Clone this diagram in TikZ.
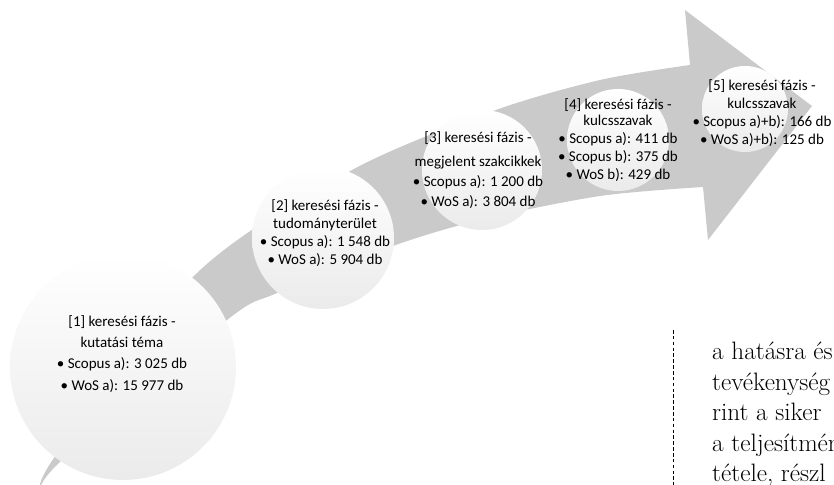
\documentclass[tikz,border=0pt]{standalone}
\usepackage{fontspec}
\setsansfont{Carlito}
\usepackage{tikz}
\usetikzlibrary{positioning}
\definecolor{arrowgrey}{RGB}{202,202,202}

\begin{document}
\begin{tikzpicture}[x=0.03cm, y=-0.03cm, every node/.style={font=\sffamily\fontsize{12.8}{15.5}\selectfont}]
\tikzset{
  stage/.style={circle, inner sep=0pt, top color=white, bottom color=black!8},
  stagetext/.style={align=center, inner sep=0pt},
  band/.style={fill=arrowgrey},
  bodytext/.style={align=left, inner sep=0pt, font=\rmfamily\fontsize{21.5}{26}\selectfont},
}
\useasboundingbox (0,0) rectangle (834,485);
\clip (0,0) rectangle (834,485);
% curved arrow
\fill[band] plot[smooth] coordinates {(40,492) (56,455) (197,273) (352,170) (493,111) (600,80) (690,65)}
  -- (685,10) -- (812,106) -- (708,240) -- (703,187)
  -- plot[smooth] coordinates {(703,187) (600,196) (480,220) (390,247) (277,293) (227,320) (62,460) (40,492)} -- cycle;
% circles
\foreach \n/\cx/\cy/\rad in {1/123/367/113, 2/323/238/71, 3/482/170/60, 4/618/140/51, 5/745/109/43}
  \node[stage, minimum size=2*\rad*0.03cm] (c\n) at (\cx,\cy) {};
% search phases
\node[stagetext, font=\sffamily\fontsize{12.8}{18}\selectfont] (t1) at (122,354) {[1] keresési fázis -\\ kutatási téma\\ • Scopus a): 3 025 db\\ • WoS a): 15 977 db};
\node[stagetext] (t2) at (325,233) {[2] keresési fázis -\\ tudományterület\\ • Scopus a): 1 548 db\\ • WoS a): 5 904 db};
\node[stagetext, font=\sffamily\fontsize{12.8}{17}\selectfont] (t3) at (478,170) {[3] keresési fázis -\\[4pt] megjelent szakcikkek\\ • Scopus a): 1 200 db\\ • WoS a): 3 804 db};
\node[stagetext] (t4) at (618,140) {[4] keresési fázis -\\[-2pt] kulcsszavak\\ • Scopus a): 411 db\\ • Scopus b): 375 db\\ • WoS b): 429 db};
\node[stagetext] (t5) at (762,113) {[5] keresési fázis -\\ kulcsszavak\\ • Scopus a)+b): 166 db\\ • WoS a)+b): 125 db};
% page text
\coordinate (dtop) at (673,330);
\coordinate (dbot) at (673,485);
\draw[dash pattern=on 3pt off 2pt, line width=0.6pt] (dtop) -- (dbot);
\node[bodytext, anchor=north west] (para) at (712,342) {a hatásra és\\ tevékenység\\ rint a siker\\ a teljesítmén\\ tétele, részl};
\end{tikzpicture}
\end{document}
